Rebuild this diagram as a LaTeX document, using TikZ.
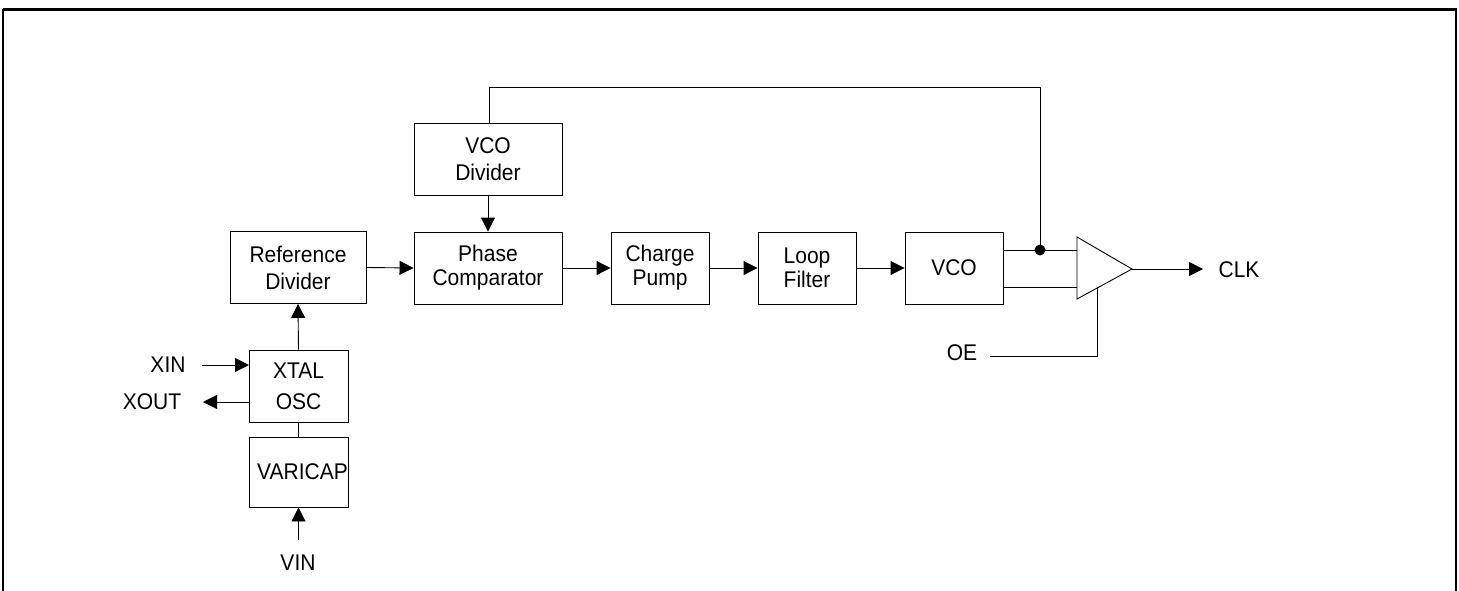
\documentclass[tikz,border=0pt]{standalone}
\usepackage{fontspec}
\usepackage{graphicx}
\setmainfont{Liberation Sans}
\usetikzlibrary{arrows.meta}
\newcommand\vst[1]{\scalebox{1}[1.08]{#1}}
\begin{document}
\begin{tikzpicture}[x=1pt,y=-1pt,
  box/.style={draw,line width=0.9pt,inner sep=0pt,align=center,font=\fontsize{21}{27}\selectfont},
  lbl/.style={inner sep=0pt,font=\fontsize{21}{26}\selectfont},
  wire/.style={line width=0.9pt},
  arr/.style={line width=0.9pt,-{Triangle[length=14pt,width=14pt]}}]
\useasboundingbox (0,0) rectangle (1459,590);
% frame
\draw[line width=3pt] (2.5,9) -- (1456.5,9);
\draw[line width=1.5pt] (3,9) -- (3,592);
\draw[line width=1.5pt] (1456,9) -- (1456,592);
% blocks
\node[box,minimum width=136pt,minimum height=72pt] (refdiv) at (298,267.5) {\vst{Reference}\\\vst{Divider}};
\node[box,minimum width=99pt,minimum height=72pt,font=\fontsize{21}{31}\selectfont] (xtal) at (298.5,386) {\vst{XTAL}\\\vst{OSC}};
\node[box,minimum width=99pt,minimum height=70pt] (varicap) at (298.5,472) {\hspace{8pt}\vst{VARICAP}};
\node[box,minimum width=148pt,minimum height=72pt] (vcodiv) at (488,159) {\vst{VCO}\\\vst{Divider}};
\node[box,minimum width=148pt,minimum height=72pt,font=\fontsize{21}{24}\selectfont] (phase) at (488,268) {\vst{Phase}\\\vst{Comparator}};
\node[box,minimum width=98pt,minimum height=72pt,font=\fontsize{21}{24}\selectfont] (charge) at (660,268) {\vst{Charge}\\\vst{Pump}};
\node[box,minimum width=98pt,minimum height=72pt,font=\fontsize{21}{24}\selectfont] (loop) at (807,268) {\vst{Loop}\\\vst{Filter}};
\node[box,minimum width=98pt,minimum height=72pt] (vco) at (954,268) {\vst{VCO}};
% labels
\node[lbl] (xin) at (168,365) {\vst{XIN}};
\node[lbl] (xout) at (152,402) {\vst{XOUT}};
\node[lbl] (vin) at (298,563) {\vst{VIN}};
\node[lbl] (oe) at (962,353) {\vst{OE}};
\node[lbl] (clk) at (1239,270) {\vst{CLK}};
% coordinates
\coordinate (xinS) at (202,365);
\coordinate (xinE) at (249,365);
\coordinate (xoutS) at (249,402);
\coordinate (xoutE) at (203,402);
\coordinate (vinS) at (298.5,540);
\coordinate (fbTop1) at (489,87);
\coordinate (fbTop2) at (1040,87);
\coordinate (dot) at (1040,250);
\coordinate (ampA) at (1077,237);
\coordinate (ampB) at (1077,299);
\coordinate (ampC) at (1132,269);
\coordinate (oeS) at (990,356);
\coordinate (oeC) at (1097,356);
\coordinate (oeE) at (1097,288);
\coordinate (clkE) at (1203,269);
% amplifier
\draw[wire,line join=miter] (ampA) -- (ampC) -- (ampB) -- cycle;
% connectors
\draw[arr] (xtal.north) -- (refdiv.south);
\draw[wire] (xtal.south) -- (varicap.north);
\draw[arr] (vinS) -- (varicap.south);
\draw[arr] (xinS) -- (xinE);
\draw[arr] (xoutS) -- (xoutE);
\draw[arr] (refdiv.east) -- (phase.west);
\draw[arr] (vcodiv.south) -- (phase.north);
\draw[arr] (phase.east) -- (charge.west);
\draw[arr] (charge.east) -- (loop.west);
\draw[arr] (loop.east) -- (vco.west);
\draw[wire] (vcodiv.north -| fbTop1) -- (fbTop1) -- (fbTop2) -- (dot);
\draw[wire] (vco.east |- dot) -- (ampA |- dot);
\draw[wire] (vco.east |- 0,287) -- (ampA |- 0,287);
\fill (dot) circle (5.5pt);
\draw[arr] (ampC) -- (clkE);
\draw[wire] (oeS) -- (oeC) -- (oeE);
\end{tikzpicture}
\end{document}
